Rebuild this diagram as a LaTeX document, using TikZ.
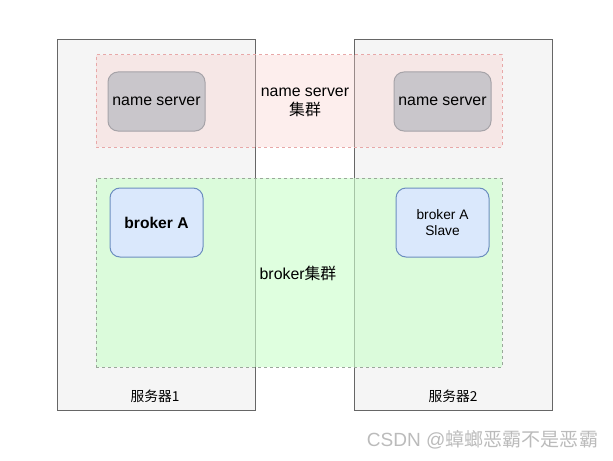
\documentclass[tikz,border=0pt]{standalone}
\usepackage{fontspec}
\setmainfont{Liberation Sans}
\newfontfamily\cjk{Noto Sans CJK SC}
\usetikzlibrary{positioning}

\definecolor{serverfill}{HTML}{F5F5F5}
\definecolor{serverline}{HTML}{666666}
\definecolor{nsfill}{HTML}{F8CECC}
\definecolor{nsline}{HTML}{E8A8A8}
\definecolor{bkfill}{HTML}{CCFFCC}
\definecolor{bkline}{HTML}{9AA89A}
\definecolor{grayfill}{HTML}{C9C6CB}
\definecolor{grayline}{HTML}{A6A3A8}
\definecolor{bluefill}{HTML}{DAE8FC}
\definecolor{blueline}{HTML}{6C8EBF}
\definecolor{markgray}{HTML}{BBBBBB}

\begin{document}
\begin{tikzpicture}[
    x=0.75pt, y=-0.75pt,
    every node/.style={inner sep=0pt, line width=0.75pt},
    server/.style={draw=serverline, fill=serverfill, minimum width=148.5pt, minimum height=277.5pt},
    cluster/.style={minimum width=304.5pt, dash pattern=on 2.25pt off 2.25pt},
    nsbox/.style={draw=grayline, fill=grayfill, rounded corners=7.5pt, minimum width=72.75pt, minimum height=44.25pt, font=\fontsize{11.9}{13}\selectfont},
    brokerbox/.style={draw=blueline, fill=bluefill, rounded corners=7.5pt, minimum width=69.75pt, minimum height=51.75pt},
    lbl/.style={align=center, font=\fontsize{11.9}{14.3}\selectfont}
]
    \useasboundingbox (0,0) rectangle (613,460);

    % servers
    \node[server] (srv1) at (156,225) {};
    \node[server] (srv2) at (453,225) {};
    \node[font=\cjk\fontsize{10.3}{12}\selectfont] (srv1lbl) at (155,396) {服务器1};
    \node[font=\cjk\fontsize{10.3}{12}\selectfont] (srv2lbl) at (453,396) {服务器2};

    % clusters
    \node[cluster, draw=nsline, fill=nsfill, fill opacity=0.35, minimum height=69pt] (nscluster) at (299,101) {};
    \node[cluster, draw=bkline, fill=bkfill, fill opacity=0.62, minimum height=141.75pt] (bkcluster) at (299,272.5) {};

    \node[lbl] (nslbl) at (305,102) {name server\\{\cjk 集群}};
    \node[lbl] (bklbl) at (298,273) {broker{\cjk 集群}};

    % name servers
    \node[nsbox] (ns1) at (156.5,101.5) {name server};
    \node[nsbox] (ns2) at (442.5,101.5) {name server};

    % brokers
    \node[brokerbox, font=\bfseries\fontsize{11.7}{13}\selectfont] (brokerA) at (156.5,222.5) {broker A};
    \node[brokerbox, align=center, font=\fontsize{10.3}{12.5}\selectfont] (slave) at (442.5,222.5) {broker A\\Slave};

    % watermark
    \node[text=markgray, font=\fontsize{14.3}{16}\selectfont] (mark) at (482.5,440) {CSDN @{\cjk 蟑螂恶霸不是恶霸}};
\end{tikzpicture}
\end{document}
